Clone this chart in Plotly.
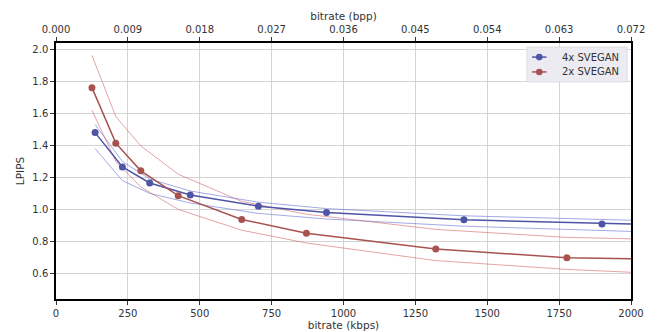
import plotly.graph_objects as go

# ---- data ----
kbps_4x = [136, 231, 326, 467, 704, 941, 1419, 1899, 2400]
lpips_4x = [1.48, 1.265, 1.165, 1.09, 1.02, 0.98, 0.935, 0.908, 0.89]
lpips_4x_hi = [1.53, 1.30, 1.19, 1.115, 1.045, 1.005, 0.96, 0.931, 0.913]
lpips_4x_lo = [1.38, 1.18, 1.10, 1.04, 0.975, 0.94, 0.895, 0.862, 0.84]

kbps_2x = [125, 208, 295, 425, 646, 871, 1321, 1777, 2400]
lpips_2x = [1.761, 1.414, 1.241, 1.086, 0.937, 0.851, 0.752, 0.698, 0.68]
lpips_2x_hi = [1.963, 1.58, 1.397, 1.22, 1.05, 0.97, 0.875, 0.825, 0.80]
lpips_2x_lo = [1.62, 1.30, 1.14, 1.00, 0.87, 0.79, 0.68, 0.625, 0.575]

series_names = ["4x SVEGAN", "2x SVEGAN"]
bottom_ticks = [0, 250, 500, 750, 1000, 1250, 1500, 1750, 2000]
top_ticks = [0.000, 0.009, 0.018, 0.027, 0.036, 0.045, 0.054, 0.063, 0.072]
y_ticks = [0.6, 0.8, 1.0, 1.2, 1.4, 1.6, 1.8, 2.0]
BPP_PER_KBPS = 0.072 / 2000

BLUE = "#4e55a6"
RED = "#a8524f"
BLUE_T = "rgba(90,100,210,0.55)"
RED_T = "rgba(205,90,90,0.55)"

fig = go.Figure()

for xs, ys, col in [(kbps_4x, lpips_4x_hi, BLUE_T), (kbps_4x, lpips_4x_lo, BLUE_T),
                    (kbps_2x, lpips_2x_hi, RED_T), (kbps_2x, lpips_2x_lo, RED_T)]:
    fig.add_trace(go.Scatter(x=xs, y=ys, mode="lines", line=dict(color=col, width=1),
                             showlegend=False, hoverinfo="skip"))

fig.add_trace(go.Scatter(x=kbps_4x, y=lpips_4x, mode="lines+markers", name=series_names[0],
                         line=dict(color=BLUE, width=1.5), marker=dict(color=BLUE, size=7),
                         showlegend=False))
fig.add_trace(go.Scatter(x=kbps_2x, y=lpips_2x, mode="lines+markers", name=series_names[1],
                         line=dict(color=RED, width=1.5), marker=dict(color=RED, size=7),
                         showlegend=False))

# invisible trace to carry the top (bpp) axis
fig.add_trace(go.Scatter(x=[k * BPP_PER_KBPS for k in kbps_4x], y=lpips_4x, xaxis="x2",
                         mode="markers", marker=dict(opacity=0), showlegend=False,
                         hoverinfo="skip"))

tickfont = dict(family="DejaVu Sans", size=10, color="#333333")

# ---- custom compact legend (box, line+marker glyphs, labels) ----
shapes = [dict(type="rect", xref="paper", yref="paper", x0=0.819, x1=0.993, y0=0.848, y1=0.984,
               fillcolor="#ebebf1", line=dict(color="#dcdce4", width=1), layer="above")]
annotations = []
for name, col, ry in [(series_names[0], BLUE, 0.945), (series_names[1], RED, 0.887)]:
    shapes.append(dict(type="line", xref="paper", yref="paper", x0=0.828, x1=0.853, y0=ry, y1=ry,
                       line=dict(color=col, width=1.5), layer="above"))
    shapes.append(dict(type="circle", xref="paper", yref="paper", xsizemode="pixel",
                       ysizemode="pixel", xanchor=0.8405, yanchor=ry, x0=-3.3, x1=3.3,
                       y0=-3.3, y1=3.3, fillcolor=col, line=dict(color=col, width=0),
                       layer="above"))
    annotations.append(dict(text=name, xref="paper", yref="paper", x=0.876, y=ry,
                            xanchor="left", yanchor="middle", showarrow=False,
                            font=dict(family="DejaVu Sans", size=10, color="#333333")))

fig.update_layout(
    width=658, height=332,
    margin=dict(l=48, r=35, t=35, b=41),
    paper_bgcolor="white", plot_bgcolor="white",
    font=dict(family="DejaVu Sans", size=10, color="#333333"),
    xaxis=dict(range=[0, 2000], tickvals=bottom_ticks, ticks="outside", ticklen=4,
               tickcolor="#333", showline=True, linecolor="black", linewidth=1.5,
               showgrid=True, gridcolor="#d4d4d4", gridwidth=1, zeroline=False,
               tickfont=tickfont, automargin=False,
               title=dict(text="bitrate (kbps)", font=dict(size=10.5, color="#333"), standoff=2)),
    xaxis2=dict(range=[0, 2000 * BPP_PER_KBPS], overlaying="x", side="top", anchor="y",
                tickvals=top_ticks, tickformat=".3f", ticks="outside", ticklen=4,
                tickcolor="#333", showline=True, linecolor="black", linewidth=1.5,
                showgrid=False, zeroline=False, tickfont=tickfont, automargin=False,
                title=dict(text="bitrate (bpp)", font=dict(size=10.5, color="#333"), standoff=2)),
    yaxis=dict(range=[0.44, 2.04], tickvals=y_ticks, tickformat=".1f", ticks="outside",
               ticklen=4, tickcolor="#333", showline=True, linecolor="black", linewidth=1.5,
               mirror=True, showgrid=True, gridcolor="#d4d4d4", gridwidth=1, zeroline=False,
               tickfont=tickfont, automargin=False,
               title=dict(text="LPIPS", font=dict(size=10.5, color="#333"), standoff=6)),
    shapes=shapes,
    annotations=annotations,
    showlegend=False,
)

fig.write_html("out.html")
